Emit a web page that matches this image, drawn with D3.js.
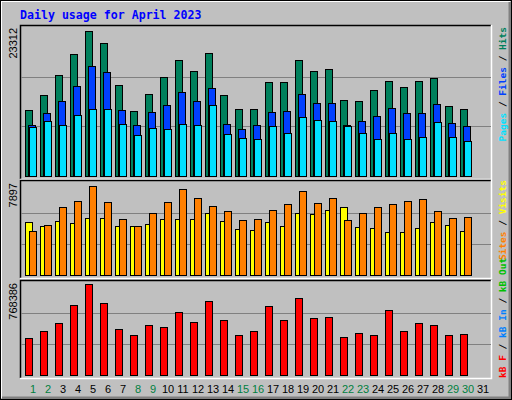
<!DOCTYPE html>
<html><head><meta charset="utf-8">
<script src="https://cdn.jsdelivr.net/npm/d3@7"></script>
<style>body{margin:0;background:#fff}</style>
</head><body><svg id="chart" width="512" height="400"></svg>
<script>
const days = d3.range(1, 32);
const weekend = [1, 2, 8, 9, 15, 16, 22, 23, 29, 30];
const hits = [10345,12661,15749,19146,22697,20844,14205,10190,12815,15440,18219,16366,19300,12661,10499,10499,14668,14668,18219,16366,16675,11889,11734,13433,14822,13896,14822,15286,10962,10499];
const files = [8029,9882,11734,14050,17138,16212,10345,8029,10036,11117,13124,11734,13742,8183,7411,8029,10036,10190,12815,11426,11426,8029,8646,9418,10654,9882,9882,11271,8338,7874];
const pages = [7720,8646,8029,9573,10499,10499,8183,6485,7566,7411,8183,8029,11117,6639,6022,5867,7874,6794,9264,8801,8646,7874,6794,5867,6794,5867,6176,8492,6176,5404];
const visits = [4499,4169,4581,4416,4828,4828,4169,4169,4334,4745,4745,4745,5239,4581,3923,3840,4499,4169,5239,5157,5486,5733,4087,4005,3676,3676,4005,4499,4252,3758];
const sites = [3758,4252,5815,6309,7543,6227,4745,4169,5239,6227,7296,6556,5897,5404,4663,4745,5486,6062,7132,6144,6556,4663,5239,5733,6062,6309,6473,5404,4828,4910];
const kbytes = [305694,363528,429624,578340,751842,594864,380052,330480,413100,396576,520506,437886,611388,454410,330480,363528,570078,454410,636174,470934,479196,313956,347004,330480,537030,363528,429624,413100,330480,338742];
const maxHits = 23312, maxSites = 7897, maxKB = 768386;

const svg = d3.select('#chart');
const mono = 'DejaVu Sans Mono, monospace';

svg.append('rect').attr('width', 512).attr('height', 400).attr('fill', '#c0c0c0');
svg.append('path').attr('d', 'M1,398V1H510').attr('fill', 'none').attr('stroke', '#fff').attr('stroke-width', 2);
svg.append('path').attr('d', 'M2,398H510V2').attr('fill', 'none').attr('stroke', '#808080').attr('stroke-width', 3);
svg.append('rect').attr('x', 0.5).attr('y', 0.5).attr('width', 511).attr('height', 399)
  .attr('fill', 'none').attr('stroke', '#000');

svg.append('text').attr('x', 20).attr('y', 19).attr('font-family', mono).attr('font-weight', 'bold')
  .attr('font-size', 11.6).attr('fill', '#0000ff').text('Daily usage for April 2023');

const x = d3.scaleLinear().domain([1, 31]).range([25, 475]);

function panel(top, bottom, max, label) {
  svg.append('path').attr('d', `M20.5,${bottom}V${top + 0.5}H491`).attr('fill', 'none').attr('stroke', '#000').attr('stroke-width', 1.5);
  svg.append('path').attr('d', `M20,${bottom + 0.5}H491.5V${top}`).attr('fill', 'none').attr('stroke', '#fff').attr('stroke-width', 1.5);
  const y = d3.scaleLinear().domain([0, max]).range([bottom - 3, top + 2]);
  [max / 3, max * 2 / 3].forEach(v => {
    svg.append('line').attr('x1', 21).attr('x2', 491).attr('y1', Math.round(y(v)) + 0.5).attr('y2', Math.round(y(v)) + 0.5)
      .attr('stroke', '#808080');
  });
  svg.append('text').attr('transform', `translate(17,${top + 3}) rotate(-90)`).attr('text-anchor', 'end')
    .attr('font-family', 'Liberation Sans, sans-serif').attr('font-size', 11).text(label);
  return y;
}

function bars(data, y, dx, w, color) {
  svg.append('g').selectAll('rect').data(data).enter().append('rect')
    .attr('x', (d, i) => x(i + 1) + dx + 0.5)
    .attr('y', d => Math.round(y(d)) + 0.5)
    .attr('width', w)
    .attr('height', d => Math.round(y(0)) - Math.round(y(d)))
    .attr('fill', color).attr('stroke', '#000');
}

const y1 = panel(25, 179, maxHits, maxHits);
bars(hits, y1, 0, 7, '#00805c');
bars(files, y1, 3, 7, '#0040ff');
bars(pages, y1, 4, 7, '#00e0ff');

const y2 = panel(180, 278, maxSites, maxSites);
bars(visits, y2, 0, 7, '#ffff00');
bars(sites, y2, 4, 7, '#ff8000');

const y3 = panel(280, 378, maxKB, maxKB);
bars(kbytes, y3, 0, 7, '#ff0000');

function legend(parts, y, anchor) {
  const t = svg.append('text').attr('transform', `translate(506,${y}) rotate(-90)`).attr('text-anchor', anchor)
    .attr('font-family', mono).attr('font-size', 9.5).attr('font-weight', 'bold');
  parts.forEach(([s, c]) => t.append('tspan').attr('fill', c).text(s));
}
legend([['Pages', '#00e0ff'], [' / ', '#000'], ['Files', '#0040ff'], [' / ', '#000'], ['Hits', '#00805c']], 27, 'end');
legend([['Sites', '#ff8000'], [' / ', '#000'], ['Visits', '#ffff00']], 180, 'end');
legend([['kB F', '#ff0000'], [' / ', '#000'], ['kB In', '#0080ff'], [' / ', '#000'], ['kB Out', '#00c000']], 378, 'start');

svg.append('g').selectAll('text').data(days).enter().append('text')
  .attr('x', d => x(d) + 8).attr('y', 393).attr('text-anchor', 'middle')
  .attr('font-family', 'Liberation Sans, sans-serif').attr('font-size', 11)
  .attr('fill', d => weekend.includes(d) ? '#008040' : '#000').text(d => d);
</script></body></html>
